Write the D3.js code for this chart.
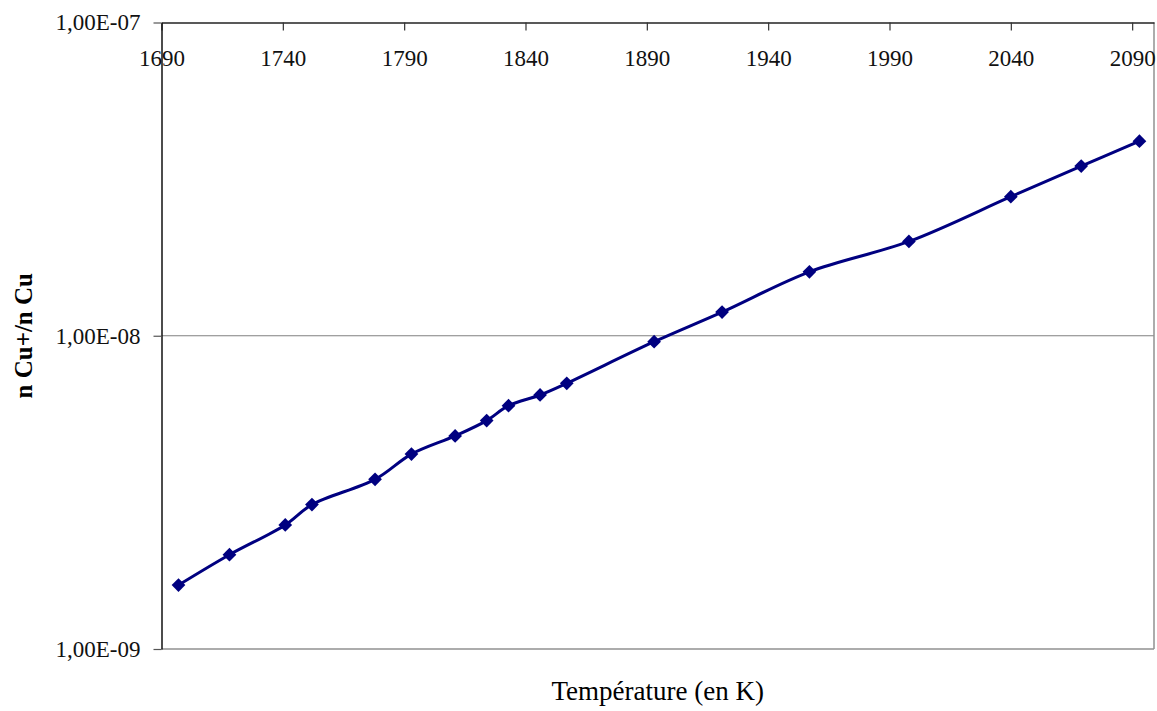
<!DOCTYPE html>
<html>
<head>
<meta charset="utf-8">
<script src="https://cdn.jsdelivr.net/npm/d3@7"></script>
<style>
  body { margin: 0; background: #fff; }
</style>
</head>
<body>
<div class="chart"></div>
<script>
// Data
const temperatures = [1697, 1718, 1741, 1752, 1778, 1793, 1811, 1824, 1833, 1846, 1857,
                      1893, 1921, 1957, 1998, 2040, 2069, 2093];
const ratios = [1.60e-9, 2.00e-9, 2.49e-9, 2.89e-9, 3.48e-9, 4.19e-9, 4.79e-9, 5.36e-9, 5.98e-9,
                6.47e-9, 7.05e-9, 9.57e-9, 1.19e-8, 1.60e-8, 2.00e-8, 2.78e-8, 3.48e-8, 4.18e-8];
const xTicks = [1690, 1740, 1790, 1840, 1890, 1940, 1990, 2040, 2090];
const yTicks = [1e-9, 1e-8, 1e-7];

const points = temperatures.map((t, i) => ({t: t, v: ratios[i]}));

const FONT = "'Liberation Serif', Tinos, 'Times New Roman', Times, 'DejaVu Serif', serif";

const width = 1157, height = 711;
const margin = {top: 22.5, right: 3, bottom: 62, left: 161.5};

const svg = d3.select('.chart').append('svg')
    .attr('width', width).attr('height', height)
    .style('font-family', FONT);

const xScale = d3.scaleLinear([1690, 2099], [margin.left, width - margin.right]);
const yScale = d3.scaleLog([1e-9, 1e-7], [height - margin.bottom, margin.top]);

// format like 1,00E-08
const fmtY = d => {
    const e = Math.round(Math.log10(d));
    return '1,00E-' + String(-e).padStart(2, '0');
};

// plot border (grey) and gridline
svg.append('line')
    .attr('x1', margin.left).attr('x2', width - margin.right)
    .attr('y1', yScale(1e-8)).attr('y2', yScale(1e-8))
    .attr('stroke', '#808080').attr('stroke-width', 1.2);
svg.append('line')
    .attr('x1', margin.left).attr('x2', width - margin.right)
    .attr('y1', yScale(1e-9)).attr('y2', yScale(1e-9))
    .attr('stroke', '#909090').attr('stroke-width', 1.5);
svg.append('line')
    .attr('x1', width - margin.right).attr('x2', width - margin.right)
    .attr('y1', margin.top).attr('y2', yScale(1e-9))
    .attr('stroke', '#909090').attr('stroke-width', 1.5);

// x axis on top, labels below it
const xAxis = d3.axisBottom(xScale).tickValues(xTicks).tickFormat(d3.format('d'))
    .tickSizeInner(8).tickSizeOuter(0).tickPadding(19);
const xAxisDraw = svg.append('g').attr('class', 'x axis')
    .attr('transform', `translate(0,${margin.top})`).call(xAxis)
    .attr('font-family', FONT);
xAxisDraw.select('.domain').attr('stroke', '#222').attr('stroke-width', 1.5);
xAxisDraw.selectAll('.tick line').attr('stroke', '#333').attr('stroke-width', 1.2);
xAxisDraw.selectAll('text').style('font-size', '23px').style('font-family', FONT).attr('fill', '#111');

// y axis
const yAxis = d3.axisLeft(yScale).tickValues(yTicks).tickFormat(fmtY)
    .tickSizeInner(8).tickSizeOuter(0).tickPadding(13);
const yAxisDraw = svg.append('g').attr('class', 'y axis')
    .attr('transform', `translate(${margin.left},0)`).call(yAxis)
    .attr('font-family', FONT);
yAxisDraw.select('.domain').attr('stroke', '#111').attr('stroke-width', 1.5);
yAxisDraw.selectAll('.tick line').attr('stroke', '#555').attr('stroke-width', 1.2);
yAxisDraw.selectAll('text').style('font-size', '23px').style('font-family', FONT).attr('fill', '#111');

// series line (smoothed)
const line = d3.line()
    .x(d => xScale(d.t))
    .y(d => yScale(d.v))
    .curve(d3.curveCatmullRom.alpha(0.5));

svg.append('path').datum(points)
    .attr('d', line)
    .attr('fill', 'none')
    .attr('stroke', '#000080')
    .attr('stroke-width', 3);

// diamond markers
svg.append('g').selectAll('path.marker').data(points).join('path')
    .attr('class', 'marker')
    .attr('transform', d => `translate(${xScale(d.t)},${yScale(d.v)})`)
    .attr('d', d3.symbol(d3.symbolDiamond2, 120)())
    .attr('fill', '#000080');

// axis titles
svg.append('text')
    .attr('x', (margin.left + width - margin.right) / 2)
    .attr('y', 700)
    .attr('text-anchor', 'middle')
    .style('font-family', FONT)
    .style('font-size', '27px')
    .text('Température (en K)');

svg.append('text')
    .attr('transform', `translate(32,${(margin.top + height - margin.bottom) / 2}) rotate(-90)`)
    .attr('text-anchor', 'middle')
    .style('font-family', FONT)
    .style('font-size', '25px')
    .style('font-weight', 'bold')
    .text('n Cu+/n Cu');
</script>
</body>
</html>
